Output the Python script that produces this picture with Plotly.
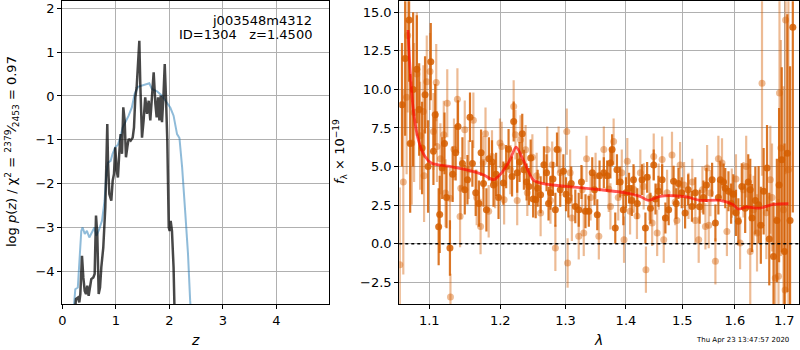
import plotly.graph_objects as go

# ---------------- Left panel: p(z) curves ----------------
z_chi = [0.19, 0.243, 0.29, 0.355, 0.38, 0.42, 0.46, 0.505, 0.555, 0.60, 0.636, 0.68, 0.742, 0.79,
         0.823, 0.854, 0.904, 0.94, 0.99, 1.04, 1.085, 1.128, 1.178, 1.24, 1.30, 1.353, 1.415, 1.49,
         1.55, 1.627, 1.676, 1.77, 1.864, 1.957, 2.02, 2.08, 2.145, 2.19, 2.24, 2.30, 2.35, 2.39, 2.42]
logp_chi = [-5.2, -4.41, -4.37, -3.08, -3.0, -3.15, -3.08, -3.23, -3.11, -3.0, -3.19, -3.07, -2.85, -2.39,
            -1.78, -1.52, -1.48, -1.32, -1.17, -1.11, -0.94, -0.72, -0.60, -0.45, -0.26, 0.05, 0.21, 0.235,
            0.26, 0.29, 0.16, 0.105, 0.007, -0.17, -0.27, -0.45, -0.87, -0.96, -1.63, -2.69, -3.61, -4.67, -5.2]

z_pz = [0.23, 0.256, 0.293, 0.318, 0.337, 0.368, 0.393, 0.419, 0.443, 0.467, 0.493, 0.518, 0.542, 0.58,
        0.605, 0.63, 0.654, 0.68, 0.705, 0.729, 0.766, 0.804, 0.83, 0.841, 0.854, 0.879, 0.916, 0.942,
        0.966, 0.99, 1.017, 1.04, 1.066, 1.09, 1.116, 1.14, 1.166, 1.19, 1.215, 1.24, 1.278, 1.316, 1.34,
        1.365, 1.39, 1.415, 1.44, 1.458, 1.49, 1.52, 1.55, 1.583, 1.615, 1.645, 1.676, 1.708, 1.74, 1.764,
        1.79, 1.815, 1.84, 1.864, 1.89, 1.915, 1.94, 1.963, 1.99, 2.007, 2.026, 2.05, 2.08, 2.10]
logp_pz = [-5.0, -4.63, -4.6, -4.71, -4.52, -3.65, -4.14, -4.45, -4.52, -4.33, -4.56, -4.37, -4.18, -4.14,
           -4.06, -2.73, -3.15, -4.52, -4.37, -3.91, -3.46, -2.54, -1.44, -0.64, -1.48, -2.24, -2.39, -1.93,
           -1.78, -1.17, -1.71, -1.86, -1.29, -0.87, -1.32, -0.26, -0.56, -1.40, -1.17, -0.98, -1.02, -0.95, -0.72,
           -0.03, 0.20, 0.73, 1.26, 0.27, -0.95, -0.56, -0.03, -0.41, -0.11, -0.56, -0.03, 0.54, -0.18, -0.49,
           -0.03, -0.56, 0.01, -0.60, -0.03, 0.73, -0.11, -1.02, -3.0, -3.08, -2.85, -3.08, -3.91, -5.0]

# ---------------- Right panel: spectrum ----------------
lam_a = [1.0638, 1.0679, 1.0731, 1.0745, 1.0784, 1.0833, 1.0864, 1.0903, 1.0943, 1.0983, 1.1020, 1.1056,
         1.1080, 1.1127, 1.1141, 1.1175, 1.1207, 1.1235, 1.1282, 1.1320, 1.1362, 1.1394, 1.1456, 1.1489,
         1.1527, 1.1563, 1.1597, 1.1644, 1.1690, 1.1721, 1.1756, 1.1798, 1.1834, 1.1879, 1.1901, 1.1939,
         1.1975, 1.2046, 1.2087, 1.2123, 1.2175, 1.2199, 1.2252, 1.2287, 1.2328, 1.2353, 1.2394, 1.2430,
         1.2456, 1.2494, 1.2533, 1.2563, 1.2609, 1.2660, 1.2701, 1.2732, 1.2762, 1.2801, 1.2839, 1.2865,
         1.2916, 1.2966, 1.3008, 1.3046, 1.3091, 1.3157, 1.3212, 1.3256, 1.3322, 1.3377, 1.3433, 1.3471,
         1.3516, 1.3554, 1.3625, 1.3681, 1.3736, 1.3764, 1.3818, 1.3846, 1.3901, 1.3955, 1.4000, 1.4053,
         1.4101, 1.4130, 1.4196, 1.4279, 1.4338, 1.4368, 1.4427, 1.4485, 1.4516, 1.4569, 1.4635, 1.4694,
         1.4753, 1.4842, 1.4890, 1.4931, 1.4991, 1.5053, 1.5110, 1.5180, 1.5243, 1.5325, 1.5395, 1.5452,
         1.5560, 1.5623, 1.5680, 1.5718, 1.5780, 1.5813, 1.5875, 1.5927, 1.5970, 1.6022, 1.6069, 1.6137,
         1.6204, 1.6265, 1.6305, 1.6340, 1.6407, 1.6473, 1.6518, 1.6575, 1.6644, 1.6690, 1.6777, 1.6846,
         1.6892, 1.6947, 1.7004, 1.7064, 1.7121, 1.7179]
flux_a = [9.0, 12.0, 14.5, 6.5, 10.0, 11.3, 8.7, 6.2, 9.65, 5.0, 11.8, 6.0,
          8.35, 1.1, 1.9, 4.9, 6.5, 3.0, -0.28, 4.5, 5.9, 7.6, 5.2, 3.5,
          4.15, 8.2, 5.2, 3.3, 2.6, 5.9, 3.9, 2.2, 5.5, 5.3, 3.8, 4.5,
          3.0, 3.93, 5.0, 6.13, 4.36, 7.92, 4.6, 5.3, 7.13, 4.79, 4.0, 3.71,
          5.55, 2.9, 2.85, 3.6, 3.17, 5.12, 4.6, 2.6, 3.3, 4.2, 2.2, 6.1,
          3.5, 4.7, 3.2, 2.8, 3.9, 2.42, 2.2, 4.0, 2.1, 2.1, 4.6, 3.5,
          1.88, 4.4, 4.6, 4.4, 5.23, 6.1, 1.02, 4.8, 4.0, 2.2, 3.3, 3.6,
          2.8, 4.15, 2.6, 4.15, 1.02, 4.3, 2.3, 5.1, 2.9, 3.4, 4.15, 1.67,
          2.2, 4.05, 2.6, 3.9, 3.3, 1.99, 3.5, 2.42, 3.3, 2.4, 3.0, 3.8,
          4.15, 1.34, 3.0, 4.15, 4.0, 3.6, 3.4, 2.6, 3.2, 2.0, 1.45, 3.71,
          2.3, 4.0, 3.5, 1.67, 2.8, 2.53, 1.2, 3.4, 4.9, 0.3, -0.82, 1.5,
          3.8, 5.44, -0.5, 5.87, 1.5, 14.03]
err_a = [4.0, 5.0, 4.0, 4.5, 5.0, 3.5, 3.0, 3.0, 2.5, 3.0, 2.5, 2.2,
         2.0, 2.5, 2.5, 2.0, 2.0, 2.0, 1.8, 1.8, 1.8, 1.7, 1.7, 1.6,
         1.6, 1.6, 1.5, 1.5, 1.5, 1.5, 1.5, 1.4, 1.4, 1.4, 1.4, 1.4,
         1.4, 1.4, 1.4, 1.3, 1.3, 1.3, 1.3, 1.3, 1.3, 1.3, 1.2, 1.2,
         1.2, 1.2, 1.2, 1.2, 1.2, 1.2, 1.2, 1.1, 1.1, 1.1, 1.1, 1.1,
         1.1, 1.1, 1.1, 1.1, 1.1, 1.1, 1.1, 1.1, 1.1, 1.0, 1.0, 1.0,
         1.0, 1.0, 1.0, 1.0, 1.0, 1.0, 1.0, 1.0, 1.0, 1.0, 1.0, 1.0,
         1.0, 1.0, 1.0, 1.0, 1.0, 1.0, 1.0, 1.0, 1.0, 1.0, 1.0, 1.0,
         1.0, 1.0, 1.0, 1.0, 1.0, 1.0, 1.0, 1.0, 1.0, 1.1, 1.1, 1.1,
         1.1, 1.2, 1.1, 1.2, 1.2, 1.3, 1.3, 1.3, 1.3, 1.5, 1.5, 1.5,
         1.6, 1.8, 2.0, 2.2, 2.2, 2.5, 2.5, 2.8, 2.8, 3.0, 3.5, 4.0,
         5.0, 6.0, 7.0, 9.0, 10.0, 12.0]

lam_b = [1.0609, 1.0655, 1.0698, 1.0712, 1.0766, 1.0797, 1.0833, 1.0877, 1.0920, 1.0930, 1.0966, 1.1010,
         1.1056, 1.1094, 1.1104, 1.1151, 1.1197, 1.1221, 1.1245, 1.1282, 1.1289, 1.1338, 1.1386, 1.1423,
         1.1433, 1.1489, 1.1545, 1.1611, 1.1658, 1.1714, 1.1752, 1.1785, 1.1831, 1.1879, 1.1925, 1.1996,
         1.2021, 1.2057, 1.2149, 1.2199, 1.2225, 1.2252, 1.2302, 1.2379, 1.2405, 1.2482, 1.2548, 1.2609,
         1.2712, 1.2762, 1.2789, 1.2839, 1.2890, 1.2916, 1.3020, 1.3033, 1.3074, 1.3102, 1.3212, 1.3268,
         1.3294, 1.3339, 1.3405, 1.3488, 1.3542, 1.3625, 1.3708, 1.3736, 1.3790, 1.3868, 1.3929, 1.3967,
         1.4023, 1.4071, 1.4142, 1.4190, 1.4249, 1.4308, 1.4347, 1.4409, 1.4457, 1.4485, 1.4546, 1.4574,
         1.4635, 1.4664, 1.4724, 1.4813, 1.4872, 1.4902, 1.4961, 1.5034, 1.5116, 1.5186, 1.5243, 1.5306,
         1.5376, 1.5433, 1.5465, 1.5496, 1.5528, 1.5623, 1.5680, 1.5750, 1.5845, 1.5940, 1.6022, 1.6103,
         1.6170, 1.6224, 1.6305, 1.6372, 1.6441, 1.6542, 1.6630, 1.6711, 1.6746, 1.6813, 1.6880, 1.6900,
         1.6929, 1.6982, 1.7017, 1.7027, 1.7086]
flux_b = [-1.36, 4.0, 9.5, 13.5, 6.52, 8.5, 11.0, 7.0, 8.57, 4.4, 10.5, 11.16,
          7.27, 10.44, 6.3, 5.5, 7.06, 3.28, 9.1, 2.94, -3.45, 6.12, 9.37, 1.77,
          3.6, 7.38, 4.8, 8.0, 3.0, 1.12, 5.27, 7.12, 2.1, 5.65, 3.9, 6.52,
          6.3, 2.85, 4.8, 8.89, 7.06, 2.8, 6.73, 6.09, 3.3, 5.6, 4.4, 1.99,
          6.1, 2.8, 5.12, -0.27, 6.1, 4.6, 7.27, -1.25, 4.6, 1.67, 0.48, 3.5,
          0.7, 5.5, 3.0, 4.4, 0.48, 6.1, 3.55, 2.42, 6.62, 3.0, 4.6, 0.26,
          5.35, 2.1, 3.5, 1.8, 4.6, 3.71, -1.68, 3.0, 1.35, 5.65, 0.7, 3.7,
          5.45, 0.26, 3.3, 5.75, 2.7, 1.5, 5.1, 3.8, 3.1, 4.0, 1.5, 0.26,
          3.5, 1.12, 4.9, 1.2, 3.28, -1.14, 5.5, 5.23, 0.8, 3.28, 4.2, 0.05,
          3.5, 5.0, -0.5, 2.2, 0.7, 10.4, 2.0, 4.15, 3.0, -2.22, -2.1, 9.76,
          6.2, 2.2, -3.0, 14.5, 4.8]
err_b = [5.0, 6.0, 5.0, 5.0, 4.0, 4.5, 4.0, 3.5, 3.0, 3.0, 3.0, 2.5,
         2.5, 2.5, 2.3, 2.3, 2.2, 2.2, 2.2, 2.0, 1.5, 2.0, 2.0, 2.0,
         2.0, 1.9, 1.9, 1.8, 1.8, 1.8, 1.7, 1.7, 1.7, 1.7, 1.6, 1.6,
         1.6, 1.6, 1.6, 1.7, 1.6, 1.6, 1.6, 1.6, 1.5, 1.5, 1.5, 1.5,
         1.5, 1.5, 1.5, 1.5, 1.5, 1.5, 1.5, 1.6, 1.5, 1.5, 1.5, 1.5,
         1.5, 1.5, 1.5, 1.5, 1.5, 1.5, 1.5, 1.5, 1.5, 1.5, 1.5, 1.5,
         1.5, 1.5, 1.5, 1.5, 1.5, 1.5, 1.5, 1.5, 1.5, 1.5, 1.5, 1.5,
         1.5, 1.5, 1.5, 1.5, 1.5, 1.5, 1.5, 1.5, 1.5, 1.5, 1.5, 1.5,
         1.5, 1.5, 1.5, 1.5, 1.5, 1.5, 1.5, 1.6, 1.6, 1.6, 1.6, 1.7,
         1.8, 2.0, 5.0, 2.2, 2.5, 6.0, 3.0, 3.5, 3.5, 4.0, 5.0, 6.0,
         7.0, 8.0, 9.0, 10.0, 11.0]

lam_model = [1.0716, 1.0742, 1.0786, 1.0853, 1.0942, 1.1032, 1.1282, 1.1516, 1.1752, 1.1898, 1.1996,
             1.2144, 1.2234, 1.2344, 1.2496, 1.2650, 1.3019, 1.3286, 1.3561, 1.4013, 1.4243, 1.4389,
             1.4597, 1.4837, 1.5083, 1.5331, 1.5711, 1.5970, 1.6068, 1.6234, 1.6501, 1.6775, 1.7087]
flux_model = [13.85, 11.48, 8.68, 6.73, 5.65, 5.22, 5.01, 4.79, 4.47, 4.15, 4.47,
              5.43, 6.26, 5.43, 4.14, 3.89, 3.71, 3.61, 3.50, 3.28, 3.07, 2.81,
              3.07, 3.11, 3.03, 2.81, 2.81, 2.53, 2.25, 2.38, 2.31, 2.55, 2.59]

xticks_lam = [1.1, 1.2, 1.3, 1.4, 1.5, 1.6, 1.7]

FONT = "DejaVu Sans"
W, H = 800, 350


def px(x):
    return x / W


def py(y):
    return 1 - y / H


fig = go.Figure()

# left panel
fig.add_trace(go.Scatter(x=z_chi, y=logp_chi, mode="lines", xaxis="x", yaxis="y",
                         line=dict(color="rgba(31,119,180,0.5)", width=2), showlegend=False))
fig.add_trace(go.Scatter(x=z_pz, y=logp_pz, mode="lines", xaxis="x", yaxis="y",
                         line=dict(color="rgba(0,0,0,0.72)", width=2.5), showlegend=False))

# right panel
fig.add_trace(go.Scatter(x=lam_b, y=flux_b, mode="markers", xaxis="x2", yaxis="y2",
                         marker=dict(color="rgba(213,94,0,0.42)", size=7, line=dict(width=0)),
                         error_y=dict(type="data", array=err_b, color="rgba(213,94,0,0.42)",
                                      thickness=2.2, width=0),
                         showlegend=False))
fig.add_trace(go.Scatter(x=lam_a, y=flux_a, mode="markers", xaxis="x2", yaxis="y2",
                         marker=dict(color="rgba(213,94,0,0.85)", size=7, line=dict(width=0)),
                         error_y=dict(type="data", array=err_a, color="rgba(213,94,0,0.85)",
                                      thickness=2.2, width=0),
                         showlegend=False))
fig.add_trace(go.Scatter(x=lam_model, y=flux_model, mode="lines", xaxis="x2", yaxis="y2",
                         line=dict(color="rgba(255,0,0,0.65)", width=2.8, shape="spline",
                                   smoothing=0.8),
                         showlegend=False))

axis_common = dict(showline=True, mirror=True, linecolor="black", linewidth=1.2,
                   showgrid=True, gridcolor="#b0b0b0", gridwidth=1,
                   ticks="outside", ticklen=4, tickwidth=1, tickcolor="black",
                   zeroline=False, automargin=False,
                   tickfont=dict(family=FONT, size=13, color="black"))

fig.update_layout(
    width=W, height=H,
    margin=dict(l=0, r=0, t=0, b=0),
    paper_bgcolor="white", plot_bgcolor="white",
    font=dict(family=FONT, size=13, color="black"),
    xaxis=dict(domain=[px(62.3), px(328.7)], range=[0, 4.98], dtick=1, tick0=0,
               anchor="y", **axis_common),
    yaxis=dict(domain=[py(304), py(1.3)], range=[-4.747, 2.16], dtick=1, tick0=0,
               anchor="x", **axis_common),
    xaxis2=dict(domain=[px(399.3), px(799)], type="log", range=[0.025416, 0.238283],
                tickvals=xticks_lam, ticktext=[f"{v:.1f}" for v in xticks_lam],
                anchor="y2", **axis_common),
    yaxis2=dict(domain=[py(304), py(1.3)], range=[-3.906, 15.71], dtick=2.5, tick0=0,
                tickformat=".1f", anchor="x2", **axis_common),
)

fig.add_shape(type="line", xref="x2 domain", yref="y2", x0=0, x1=1, y0=0, y1=0,
              line=dict(color="black", width=1.6, dash="dot"))

annots = [
    dict(text="j003548m4312", x=px(313.5), y=py(20), xanchor="right", yanchor="middle",
         font=dict(size=13)),
    dict(text="ID=1304   z=1.4500", x=px(313.5), y=py(34.5), xanchor="right", yanchor="middle",
         font=dict(size=13)),
    dict(text="log <i>p</i>(<i>z</i>) / χ<sup>2</sup> = <sup>2379</sup>⁄<sub>2453</sub> = 0.97",
         x=px(12), y=py(152), textangle=-90, xanchor="center", yanchor="middle",
         font=dict(size=13)),
    dict(text="<i>f</i><sub>λ</sub> × 10<sup>−19</sup>", x=px(340), y=py(152), textangle=-90,
         xanchor="center", yanchor="middle", font=dict(size=13)),
    dict(text="<i>z</i>", x=px(195), y=py(340), xanchor="center", yanchor="middle",
         font=dict(size=14)),
    dict(text="<i>λ</i>", x=px(598.3), y=py(340), xanchor="center", yanchor="middle",
         font=dict(size=14)),
    dict(text="Thu Apr 23 13:47:57 2020", x=px(742.7), y=py(339.5), xanchor="center",
         yanchor="middle", font=dict(size=7)),
]
for a in annots:
    fig.add_annotation(xref="paper", yref="paper", showarrow=False, **a)

fig.write_html("out.html", config={"displayModeBar": False},
               post_script="document.body.style.margin='0';document.body.style.overflow='hidden';")
